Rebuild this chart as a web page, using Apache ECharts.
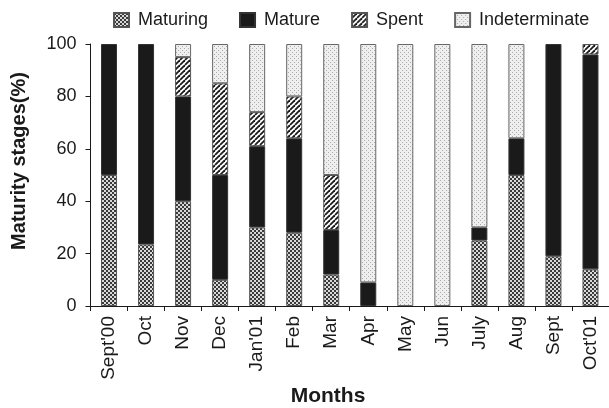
<!DOCTYPE html>
<html>
<head>
<meta charset="utf-8">
<script src="https://cdn.jsdelivr.net/npm/echarts@6/dist/echarts.min.js"></script>
<style>
  html, body { margin: 0; padding: 0; background: #fff; }
  #chart { width: 609px; height: 408px; }
</style>
</head>
<body>
<div id="chart"></div>
<script>
// Monthly maturity stages (%), Sept 2000 - Oct 2001
const months = ["Sept'00", "Oct", "Nov", "Dec", "Jan'01", "Feb", "Mar", "Apr", "May", "Jun", "July", "Aug", "Sept", "Oct'01"];
const maturing      = [50, 23.5, 40, 10, 30, 28, 12, 0, 0, 0, 25, 50, 19, 14];
const mature        = [50, 76.5, 40, 40, 31, 36, 17, 9, 0, 0, 5, 14, 81, 82];
const spent         = [0, 0, 15, 35, 13, 16, 21, 0, 0, 0, 0, 0, 0, 4];
const indeterminate = [0, 0, 5, 15, 26, 20, 50, 91, 100, 100, 70, 36, 0, 0];
const yTicks = [0, 20, 40, 60, 80, 100];

// Fill textures drawn on small tiles
function tile(size, draw) {
  const c = document.createElement('canvas');
  c.width = size; c.height = size;
  const g = c.getContext('2d');
  draw(g, size);
  return { image: c, repeat: 'repeat' };
}
const checkFill = tile(4, (g) => {
  g.fillStyle = '#d9d9d9'; g.fillRect(0, 0, 4, 4);
  g.fillStyle = '#3a3a3a'; g.fillRect(0, 0, 2, 2); g.fillRect(2, 2, 2, 2);
});
const hatchFill = tile(5, (g, s) => {
  g.fillStyle = '#ffffff'; g.fillRect(0, 0, s, s);
  g.strokeStyle = '#1a1a1a'; g.lineWidth = 1.8;
  for (let k = -1; k <= 1; k++) {
    g.beginPath();
    g.moveTo(k * s, s); g.lineTo(k * s + s, 0);
    g.stroke();
  }
});
const dotFill = tile(4, (g) => {
  g.fillStyle = '#efefef'; g.fillRect(0, 0, 4, 4);
  g.fillStyle = '#ababab'; g.fillRect(0, 0, 1, 1); g.fillRect(2, 2, 1, 1);
});

const nz = (arr) => arr.map(v => (v === 0 ? null : v));
const font = '"Liberation Sans", Arial, sans-serif';

function barSeries(name, data, fill, border) {
  return {
    name: name,
    type: 'bar',
    stack: 'stage',
    barWidth: 16,
    data: nz(data),
    itemStyle: { color: fill, borderColor: border, borderWidth: 1 },
    emphasis: { disabled: true }
  };
}

const chart = echarts.init(document.getElementById('chart'), null, { renderer: 'canvas' });
chart.setOption({
  animation: false,
  backgroundColor: '#ffffff',
  textStyle: { fontFamily: font, color: '#1a1a1a' },
  legend: {
    top: 6,
    left: 108,
    itemWidth: 15,
    itemHeight: 14,
    itemGap: 31,
    icon: 'rect',
    textStyle: { fontFamily: font, fontSize: 18, color: '#1a1a1a', padding: [0, 0, 0, 4] },
    data: ['Maturing', 'Mature', 'Spent', 'Indeterminate']
  },
  grid: { left: 90.5, top: 44, width: 523.5, height: 262, containLabel: false },
  xAxis: {
    type: 'category',
    data: months,
    boundaryGap: true,
    axisLine: { lineStyle: { color: '#1a1a1a', width: 1 } },
    axisTick: { show: true, length: 5, lineStyle: { color: '#1a1a1a' } },
    axisLabel: { rotate: 90, fontSize: 19, color: '#1a1a1a', margin: 10, fontFamily: font, interval: 0 }
  },
  yAxis: {
    type: 'value',
    min: yTicks[0],
    max: yTicks[yTicks.length - 1],
    interval: 20,
    splitLine: { show: false },
    axisLine: { show: true, lineStyle: { color: '#1a1a1a', width: 1 } },
    axisTick: { show: true, length: 5, lineStyle: { color: '#1a1a1a' } },
    axisLabel: { fontSize: 18, color: '#1a1a1a', margin: 14, fontFamily: font }
  },
  graphic: [
    {
      type: 'text',
      x: 19, y: 161,
      rotation: Math.PI / 2,
      style: {
        text: 'Maturity stages(%)',
        fontFamily: font, fontSize: 20, fontWeight: 'bold', fill: '#1a1a1a',
        textAlign: 'center', textVerticalAlign: 'middle'
      }
    },
    {
      type: 'text',
      x: 328, y: 396,
      style: {
        text: 'Months',
        fontFamily: font, fontSize: 21, fontWeight: 'bold', fill: '#1a1a1a',
        textAlign: 'center', textVerticalAlign: 'middle'
      }
    }
  ],
  series: [
    barSeries('Maturing', maturing, checkFill, '#555555'),
    barSeries('Mature', mature, '#1a1a1a', '#333333'),
    barSeries('Spent', spent, hatchFill, '#555555'),
    barSeries('Indeterminate', indeterminate, dotFill, '#666666')
  ]
});
</script>
</body>
</html>
